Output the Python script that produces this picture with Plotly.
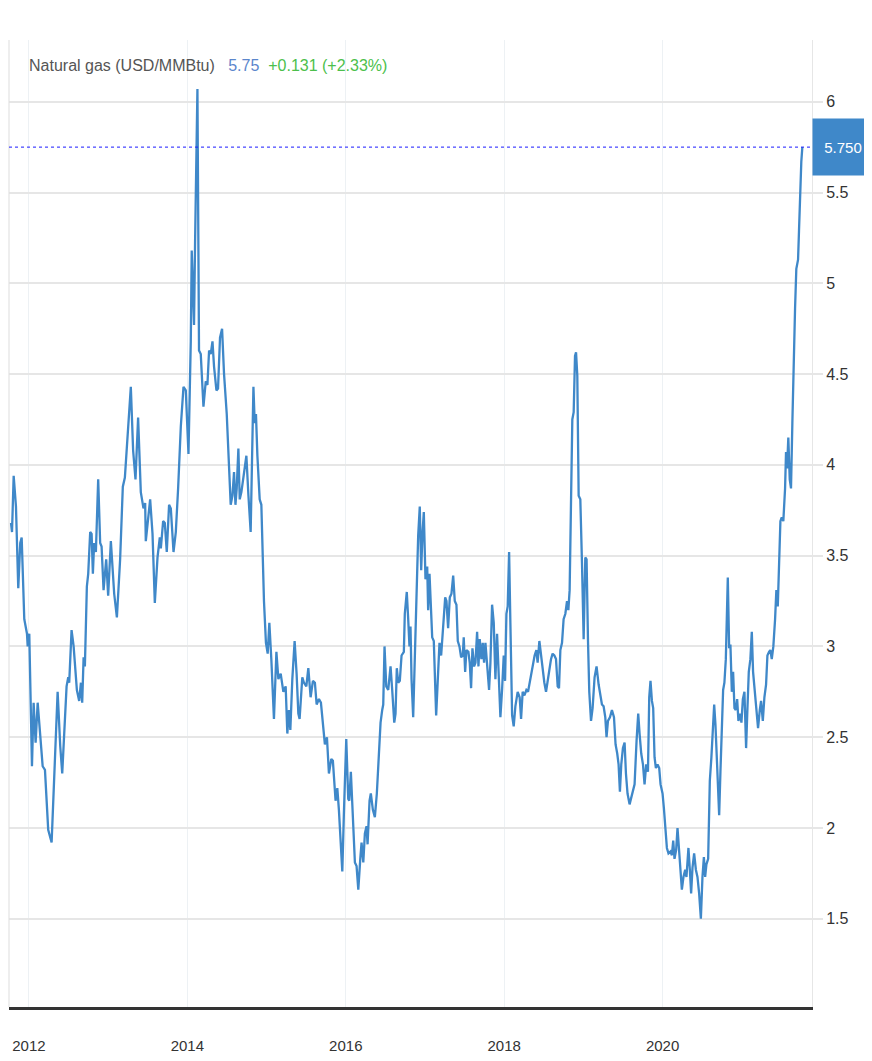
import plotly.graph_objects as go

# Time as decimal years, price in USD/MMBtu
years = [
    2011.773, 2011.786, 2011.807, 2011.836, 2011.865, 2011.890, 2011.908, 2011.941, 2011.975, 2011.984,
    2012.004, 2012.038, 2012.059, 2012.084, 2012.110, 2012.142, 2012.173, 2012.202, 2012.243, 2012.286,
    2012.311, 2012.332, 2012.362, 2012.395, 2012.420, 2012.445, 2012.475, 2012.496, 2012.508, 2012.538,
    2012.564, 2012.605, 2012.634, 2012.656, 2012.672, 2012.690, 2012.706, 2012.731, 2012.748, 2012.773,
    2012.791, 2012.807, 2012.823, 2012.845, 2012.874, 2012.899, 2012.917, 2012.942, 2012.975, 2013.000,
    2013.034, 2013.076, 2013.110, 2013.151, 2013.185, 2013.211, 2013.245, 2013.286, 2013.315, 2013.345,
    2013.378, 2013.412, 2013.446, 2013.467, 2013.475, 2013.497, 2013.530, 2013.560, 2013.589, 2013.623,
    2013.652, 2013.665, 2013.694, 2013.715, 2013.740, 2013.769, 2013.791, 2013.825, 2013.854, 2013.883,
    2013.917, 2013.951, 2013.980, 2014.014, 2014.034, 2014.043, 2014.055, 2014.072, 2014.084, 2014.097,
    2014.115, 2014.127, 2014.147, 2014.169, 2014.203, 2014.232, 2014.253, 2014.274, 2014.295, 2014.317,
    2014.337, 2014.367, 2014.387, 2014.412, 2014.438, 2014.463, 2014.497, 2014.522, 2014.547, 2014.569,
    2014.589, 2014.607, 2014.623, 2014.644, 2014.661, 2014.682, 2014.715, 2014.745, 2014.771, 2014.799,
    2014.834, 2014.850, 2014.866, 2014.884, 2014.913, 2014.934, 2014.967, 2014.992, 2015.014, 2015.035,
    2015.060, 2015.093, 2015.124, 2015.149, 2015.178, 2015.212, 2015.241, 2015.262, 2015.282, 2015.300,
    2015.325, 2015.354, 2015.379, 2015.401, 2015.417, 2015.451, 2015.472, 2015.502, 2015.527, 2015.556,
    2015.585, 2015.610, 2015.632, 2015.661, 2015.686, 2015.711, 2015.736, 2015.762, 2015.787, 2015.817,
    2015.837, 2015.871, 2015.893, 2015.913, 2015.938, 2015.956, 2015.976, 2016.006, 2016.031, 2016.044,
    2016.064, 2016.089, 2016.115, 2016.136, 2016.158, 2016.183, 2016.199, 2016.221, 2016.241, 2016.262,
    2016.275, 2016.300, 2016.316, 2016.342, 2016.367, 2016.392, 2016.417, 2016.439, 2016.460, 2016.473,
    2016.489, 2016.511, 2016.536, 2016.565, 2016.586, 2016.612, 2016.628, 2016.644, 2016.662, 2016.682,
    2016.704, 2016.733, 2016.745, 2016.770, 2016.788, 2016.804, 2016.817, 2016.830, 2016.851, 2016.871,
    2016.893, 2016.914, 2016.934, 2016.952, 2016.968, 2016.985, 2017.006, 2017.028, 2017.040, 2017.057,
    2017.091, 2017.111, 2017.141, 2017.161, 2017.183, 2017.204, 2017.229, 2017.255, 2017.271, 2017.292,
    2017.313, 2017.334, 2017.356, 2017.376, 2017.397, 2017.414, 2017.435, 2017.456, 2017.477, 2017.489,
    2017.507, 2017.523, 2017.548, 2017.565, 2017.582, 2017.599, 2017.620, 2017.637, 2017.658, 2017.675,
    2017.691, 2017.712, 2017.729, 2017.746, 2017.763, 2017.784, 2017.809, 2017.826, 2017.847, 2017.868,
    2017.889, 2017.910, 2017.931, 2017.952, 2017.973, 2017.994, 2018.011, 2018.028, 2018.044, 2018.062,
    2018.078, 2018.100, 2018.120, 2018.141, 2018.170, 2018.195, 2018.213, 2018.233, 2018.255, 2018.280,
    2018.301, 2018.321, 2018.343, 2018.364, 2018.384, 2018.406, 2018.422, 2018.444, 2018.465, 2018.485,
    2018.507, 2018.528, 2018.548, 2018.570, 2018.591, 2018.611, 2018.633, 2018.654, 2018.675, 2018.692,
    2018.709, 2018.730, 2018.750, 2018.772, 2018.793, 2018.810, 2018.826, 2018.844, 2018.860, 2018.877,
    2018.894, 2018.907, 2018.923, 2018.940, 2018.961, 2018.982, 2019.003, 2019.024, 2019.040, 2019.058,
    2019.074, 2019.096, 2019.116, 2019.141, 2019.166, 2019.192, 2019.213, 2019.234, 2019.255, 2019.276,
    2019.292, 2019.310, 2019.335, 2019.360, 2019.386, 2019.406, 2019.427, 2019.444, 2019.461, 2019.478,
    2019.499, 2019.520, 2019.537, 2019.557, 2019.583, 2019.604, 2019.620, 2019.646, 2019.671, 2019.692,
    2019.709, 2019.730, 2019.752, 2019.772, 2019.793, 2019.815, 2019.831, 2019.847, 2019.865, 2019.881,
    2019.898, 2019.915, 2019.936, 2019.957, 2019.974, 2019.999, 2020.016, 2020.033, 2020.054, 2020.074,
    2020.099, 2020.117, 2020.134, 2020.150, 2020.171, 2020.188, 2020.205, 2020.222, 2020.243, 2020.263,
    2020.285, 2020.301, 2020.326, 2020.344, 2020.360, 2020.377, 2020.398, 2020.420, 2020.440, 2020.461,
    2020.483, 2020.503, 2020.521, 2020.537, 2020.553, 2020.575, 2020.596, 2020.616, 2020.634, 2020.651,
    2020.667, 2020.685, 2020.701, 2020.714, 2020.730, 2020.748, 2020.764, 2020.780, 2020.798, 2020.823,
    2020.840, 2020.856, 2020.874, 2020.890, 2020.907, 2020.924, 2020.941, 2020.957, 2020.979, 2020.995,
    2021.013, 2021.033, 2021.054, 2021.071, 2021.088, 2021.108, 2021.126, 2021.142, 2021.159, 2021.184,
    2021.205, 2021.227, 2021.243, 2021.265, 2021.285, 2021.306, 2021.323, 2021.344, 2021.360, 2021.378,
    2021.398, 2021.420, 2021.436, 2021.454, 2021.470, 2021.487, 2021.504, 2021.524, 2021.546, 2021.558,
    2021.571, 2021.587, 2021.605, 2021.621, 2021.638, 2021.655, 2021.672, 2021.688, 2021.710, 2021.722,
    2021.739, 2021.751, 2021.764,
]

prices = [
    3.68, 3.63, 3.94, 3.77, 3.32, 3.57, 3.60, 3.15, 3.07, 3.00,
    3.07, 2.34, 2.69, 2.47, 2.69, 2.52, 2.34, 2.32, 1.99, 1.92,
    2.21, 2.36, 2.75, 2.45, 2.30, 2.52, 2.78, 2.83, 2.80, 3.09,
    3.00, 2.76, 2.70, 2.80, 2.69, 2.94, 2.89, 3.33, 3.40, 3.63,
    3.62, 3.40, 3.57, 3.52, 3.92, 3.57, 3.55, 3.31, 3.48, 3.28,
    3.58, 3.29, 3.16, 3.48, 3.88, 3.93, 4.18, 4.43, 4.08, 3.92,
    4.26, 3.85, 3.76, 3.79, 3.58, 3.67, 3.81, 3.62, 3.24, 3.49,
    3.60, 3.54, 3.69, 3.68, 3.52, 3.78, 3.76, 3.52, 3.63, 3.87,
    4.21, 4.43, 4.41, 4.06, 4.52, 4.68, 5.18, 4.90, 4.77, 5.22,
    5.78, 6.07, 4.63, 4.61, 4.32, 4.46, 4.44, 4.63, 4.61, 4.68,
    4.54, 4.41, 4.42, 4.70, 4.75, 4.50, 4.28, 4.05, 3.78, 3.83,
    3.96, 3.78, 3.87, 4.09, 3.81, 3.85, 3.96, 4.05, 3.83, 3.63,
    4.43, 4.23, 4.28, 4.05, 3.81, 3.78, 3.25, 3.02, 2.96, 3.13,
    2.93, 2.60, 2.97, 2.82, 2.85, 2.75, 2.78, 2.52, 2.65, 2.54,
    2.82, 3.03, 2.85, 2.63, 2.60, 2.83, 2.80, 2.78, 2.88, 2.72,
    2.81, 2.80, 2.68, 2.71, 2.69, 2.58, 2.46, 2.50, 2.30, 2.38,
    2.37, 2.15, 2.22, 2.10, 1.86, 1.76, 2.08, 2.49, 2.16, 2.15,
    2.31, 2.01, 1.81, 1.79, 1.66, 1.83, 1.92, 1.81, 1.97, 2.01,
    1.91, 2.15, 2.19, 2.10, 2.06, 2.19, 2.43, 2.58, 2.65, 2.68,
    3.00, 2.78, 2.76, 2.89, 2.76, 2.58, 2.63, 2.88, 2.80, 2.81,
    2.95, 2.97, 3.18, 3.30, 3.15, 3.00, 3.11, 2.82, 2.61, 2.91,
    3.33, 3.61, 3.77, 3.42, 3.62, 3.74, 3.37, 3.44, 3.20, 3.40,
    3.05, 3.03, 2.62, 2.82, 3.02, 2.95, 3.13, 3.27, 3.25, 3.10,
    3.27, 3.29, 3.39, 3.25, 3.23, 3.03, 3.00, 2.94, 2.95, 3.05,
    2.86, 2.98, 2.97, 2.91, 2.77, 2.99, 2.89, 2.91, 3.08, 2.89,
    3.04, 2.93, 3.02, 2.91, 3.02, 2.89, 2.76, 2.91, 3.23, 3.13,
    2.82, 3.07, 2.84, 2.61, 2.76, 2.95, 2.81, 3.18, 3.22, 3.52,
    3.13, 2.62, 2.56, 2.67, 2.75, 2.72, 2.60, 2.75, 2.73, 2.76,
    2.75, 2.80, 2.84, 2.91, 2.95, 2.98, 2.91, 3.03, 2.95, 2.89,
    2.80, 2.75, 2.82, 2.87, 2.93, 2.96, 2.95, 2.93, 2.78, 2.77,
    2.98, 3.02, 3.15, 3.18, 3.25, 3.20, 3.31, 3.73, 4.25, 4.29,
    4.60, 4.62, 4.49, 3.83, 3.81, 3.46, 3.04, 3.49, 3.48, 3.03,
    2.75, 2.59, 2.66, 2.83, 2.89, 2.79, 2.73, 2.68, 2.67, 2.61,
    2.50, 2.59, 2.61, 2.65, 2.61, 2.46, 2.41, 2.35, 2.20, 2.35,
    2.44, 2.47, 2.30, 2.19, 2.13, 2.17, 2.20, 2.24, 2.48, 2.63,
    2.52, 2.41, 2.35, 2.24, 2.35, 2.31, 2.72, 2.81, 2.70, 2.66,
    2.39, 2.33, 2.35, 2.33, 2.24, 2.19, 2.11, 2.02, 1.89, 1.86,
    1.87, 1.85, 1.93, 1.83, 1.88, 2.00, 1.89, 1.75, 1.66, 1.73,
    1.77, 1.73, 1.89, 1.77, 1.64, 1.78, 1.86, 1.77, 1.73, 1.64,
    1.50, 1.73, 1.84, 1.73, 1.80, 1.83, 2.26, 2.39, 2.53, 2.68,
    2.57, 2.35, 2.20, 2.07, 2.31, 2.59, 2.76, 2.80, 2.93, 3.38,
    2.99, 3.01, 2.75, 2.86, 2.66, 2.65, 2.71, 2.59, 2.63, 2.58,
    2.71, 2.75, 2.44, 2.66, 2.86, 2.93, 3.08, 2.86, 2.77, 2.66,
    2.55, 2.65, 2.70, 2.59, 2.72, 2.79, 2.95, 2.97, 2.98, 2.93,
    3.00, 3.15, 3.31, 3.22, 3.49, 3.69, 3.71, 3.69, 3.87, 4.07,
    3.98, 4.15, 3.92, 3.87, 4.23, 4.66, 4.86, 5.08, 5.13, 5.29,
    5.56, 5.67, 5.75,
]

x_tick_years = [2012, 2014, 2016, 2018, 2020]
x_tick_labels = ["2012", "2014", "2016", "2018", "2020"]
y_tick_values = [1.5, 2, 2.5, 3, 3.5, 4, 4.5, 5, 5.5, 6]
y_tick_labels = ["1.5", "2", "2.5", "3", "3.5", "4", "4.5", "5", "5.5", "6"]

series_name = "Natural gas (USD/MMBtu)"
last_price = 5.75
last_change = "+0.131"
last_change_pct = "+2.33%"

LINE = "#3f88c9"
FONT = "Liberation Sans, Arial, sans-serif"

fig = go.Figure()
fig.add_trace(go.Scatter(
    x=years, y=prices, mode="lines",
    line=dict(color=LINE, width=2.3),
    name=series_name, showlegend=False,
))

# The page adds an 8 px body margin, so the figure is sized to fit the window.
fig.update_layout(
    width=864, height=1053,
    margin=dict(l=1, r=60, t=32, b=54),
    paper_bgcolor="white", plot_bgcolor="white",
    font=dict(family=FONT, color="#333333"),
    showlegend=False,
)

fig.update_xaxes(
    range=[2011.748, 2021.886],
    tickvals=x_tick_years, ticktext=x_tick_labels,
    showgrid=True, gridcolor="#edf1f4", gridwidth=1,
    showline=True, linecolor="#333333", linewidth=3,
    ticks="outside", ticklen=23, tickcolor="rgba(0,0,0,0)",
    tickfont=dict(size=15, color="#333333", family=FONT),
    zeroline=False,
)

fig.update_yaxes(
    side="right",
    range=[1.014, 6.34],
    tickvals=y_tick_values, ticktext=y_tick_labels,
    showgrid=True, gridcolor="#e6e6e6", gridwidth=2,
    showline=True, linecolor="#e6e6e6", linewidth=1,
    ticks="outside", ticklen=10, tickwidth=2, tickcolor="#e6e6e6",
    tickfont=dict(size=16, color="#333333", family=FONT),
    zeroline=False,
)

# left border of the plot
fig.add_shape(type="line", xref="paper", yref="paper", x0=0, x1=0, y0=0, y1=1,
              line=dict(color="#dddddd", width=1))

# dotted current-price line
fig.add_shape(type="line", xref="paper", yref="y", x0=0, x1=1, y0=last_price, y1=last_price,
              line=dict(color="#1a1aff", width=1, dash="dot"))

# current-price box on the axis
fig.add_annotation(
    xref="paper", yref="y", x=1, y=last_price, xanchor="left", yanchor="middle",
    text=f"{last_price:.3f}", showarrow=False,
    bgcolor=LINE, width=60, height=56, borderpad=0, align="center",
    font=dict(size=15, color="white", family=FONT),
)

# header line
fig.add_annotation(
    xref="paper", yref="paper", x=0.0224, y=0.974, xanchor="left", yanchor="middle",
    showarrow=False, align="left",
    text=(f"<span style='color:#555555'>{series_name}</span>&nbsp;&nbsp;&nbsp;"
          f"<span style='color:#5b86cc'>{last_price}</span>&nbsp;&nbsp;"
          f"<span style='color:#4cbf4c'>{last_change} ({last_change_pct})</span>"),
    font=dict(size=16, family=FONT),
)

fig.write_html("out.html")
